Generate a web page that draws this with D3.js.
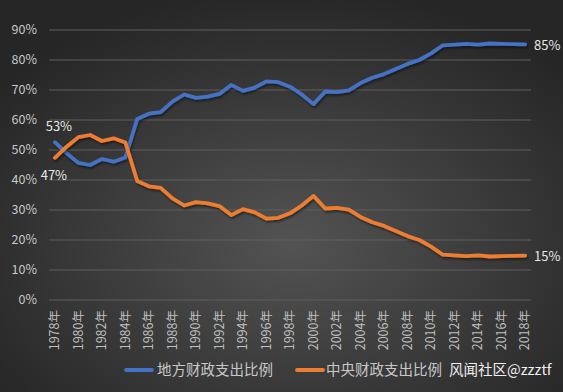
<!DOCTYPE html>
<html><head><meta charset="utf-8">
<script src="https://cdn.jsdelivr.net/npm/d3@7"></script>
<style>body{margin:0;background:#333}svg{display:block}</style>
</head><body><svg id="c" width="563" height="392"></svg>
<script>
const years = d3.range(1978, 2019).map(y => y + "年");
const centralShare = [47.4,51.1,54.3,55.0,53.0,53.9,52.5,39.7,37.9,37.4,33.9,31.5,32.6,32.2,31.3,28.3,30.3,29.2,27.1,27.4,28.9,31.5,34.7,30.5,30.7,30.1,27.7,25.9,24.7,23.0,21.3,20.0,17.8,15.1,14.9,14.6,14.9,14.5,14.6,14.7,14.8];
const localShare = centralShare.map(v => +(100 - v).toFixed(1));
const yTicks = [0,10,20,30,40,50,60,70,80,90];
const seriesNames = ["地方财政支出比例","中央财政支出比例"];
const colors = ["#4472C4","#ED7D31"];
const watermark = "风闻社区@zzztf";

const svg = d3.select("#c");
const W = 563, H = 392;
const defs = svg.append("defs");
const rg = defs.append("radialGradient").attr("id","bg").attr("cx","52%").attr("cy","62%").attr("r","65%");
rg.append("stop").attr("offset","0%").attr("stop-color","#535353");
rg.append("stop").attr("offset","100%").attr("stop-color","#262626");
const f = defs.append("filter").attr("id","sh").attr("x","-5%").attr("y","-5%").attr("width","110%").attr("height","110%");
f.append("feDropShadow").attr("dx",1).attr("dy",2).attr("stdDeviation",1.2).attr("flood-color","#000").attr("flood-opacity",0.45);
svg.append("rect").attr("width",W).attr("height",H).attr("fill","url(#bg)");

const x = d3.scaleBand().domain(years).range([49,531]);
const y = d3.scaleLinear().domain([0,90]).range([300,30]);
const font = "'Noto Sans CJK SC','Microsoft YaHei',sans-serif";

svg.append("g").selectAll("line").data(yTicks).join("line")
  .attr("x1",49).attr("x2",531).attr("y1",d=>y(d)).attr("y2",d=>y(d))
  .attr("stroke","#5e5e5e").attr("stroke-width",1);

svg.append("g").selectAll("text").data(yTicks).join("text")
  .attr("x",37).attr("y",d=>y(d)).attr("dy","0.35em").attr("text-anchor","end")
  .attr("fill","#c8c8c8").attr("font-family",font).attr("font-size",12.5).text(d=>d+"%");

svg.append("g").selectAll("text").data(years.filter((d,i)=>i%2===0)).join("text")
  .attr("transform",d=>`translate(${x(d)+x.bandwidth()/2},310) rotate(-90)`)
  .attr("dy","0.35em").attr("text-anchor","end")
  .attr("fill","#c0c0c0").attr("font-family",font).attr("font-size",12.5).text(d=>d);

const line = d3.line().x((d,i)=>x(years[i])+x.bandwidth()/2).y(d=>y(d));
[localShare, centralShare].forEach((s,k)=>{
  svg.append("path").datum(s).attr("d",line).attr("fill","none")
    .attr("stroke",colors[k]).attr("stroke-width",3.8).attr("stroke-linejoin","round").attr("stroke-linecap","round")
    .attr("filter","url(#sh)");
});

const lab = (t,xx,yy,anchor)=>svg.append("text").attr("x",xx).attr("y",yy).attr("dy","0.35em")
  .attr("text-anchor",anchor||"start").attr("fill","#e8e8e8").attr("font-family",font).attr("font-size",13).text(t);
const cx0 = x(years[0])+x.bandwidth()/2, cxN = x(years[years.length-1])+x.bandwidth()/2;
lab(Math.round(localShare[0])+"%", cx0+4, y(localShare[0])-16, "middle");
lab(Math.round(centralShare[0])+"%", cx0-1, y(centralShare[0])+18, "middle");
lab(Math.round(localShare[40])+"%", cxN+9, y(localShare[40])+1);
lab(Math.round(centralShare[40])+"%", cxN+9, y(centralShare[40])+1);

const lg = svg.append("g");
[[124,157],[295,326]].forEach((p,k)=>{
  lg.append("line").attr("x1",p[0]+2).attr("x2",p[0]+28).attr("y1",370).attr("y2",370)
    .attr("stroke",colors[k]).attr("stroke-width",3.8).attr("stroke-linecap","round");
  lg.append("text").attr("x",p[1]).attr("y",370).attr("dy","0.35em").attr("fill","#c8c8c8")
    .attr("font-family",font).attr("font-size",14.5).text(seriesNames[k]);
});
lg.append("text").attr("x",449).attr("y",370).attr("dy","0.35em").attr("fill","#f0f0f0")
  .attr("font-family",font).attr("font-size",14.5).text(watermark);
</script></body></html>
